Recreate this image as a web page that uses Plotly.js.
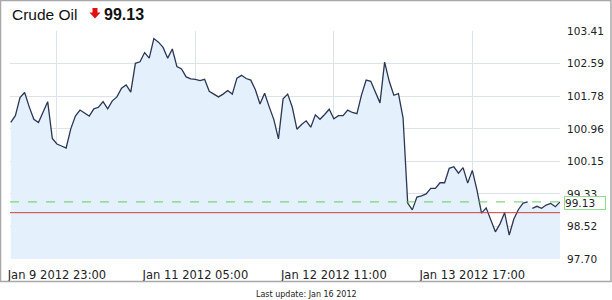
<!DOCTYPE html>
<html>
<head>
<meta charset="utf-8">
<script src="https://cdn.plot.ly/plotly-3.0.1.min.js"></script>
<style>html,body{margin:0;padding:0;background:#fff;}#chart{width:612px;height:300px;}</style>
</head>
<body>
<div id="chart"></div>
<script>
const times = [
"2012-01-09 13:00","2012-01-09 14:00","2012-01-09 15:00","2012-01-09 16:00","2012-01-09 17:00","2012-01-09 18:00","2012-01-09 19:00","2012-01-09 20:00","2012-01-09 21:00","2012-01-09 22:00","2012-01-09 23:00",
"2012-01-10 00:00","2012-01-10 01:00","2012-01-10 02:00","2012-01-10 03:00","2012-01-10 04:00","2012-01-10 05:00","2012-01-10 06:00","2012-01-10 07:00","2012-01-10 08:00","2012-01-10 09:00","2012-01-10 10:00","2012-01-10 11:00","2012-01-10 12:00","2012-01-10 13:00","2012-01-10 14:00","2012-01-10 15:00","2012-01-10 16:00","2012-01-10 17:00","2012-01-10 18:00","2012-01-10 19:00","2012-01-10 20:00","2012-01-10 21:00","2012-01-10 22:00","2012-01-10 23:00",
"2012-01-11 00:00","2012-01-11 01:00","2012-01-11 02:00","2012-01-11 03:00","2012-01-11 04:00","2012-01-11 05:00","2012-01-11 06:00","2012-01-11 07:00","2012-01-11 08:00","2012-01-11 09:00","2012-01-11 10:00","2012-01-11 11:00","2012-01-11 12:00","2012-01-11 13:00","2012-01-11 14:00","2012-01-11 15:00","2012-01-11 16:00","2012-01-11 17:00","2012-01-11 18:00","2012-01-11 19:00","2012-01-11 20:00","2012-01-11 21:00","2012-01-11 22:00","2012-01-11 23:00",
"2012-01-12 00:00","2012-01-12 01:00","2012-01-12 02:00","2012-01-12 03:00","2012-01-12 04:00","2012-01-12 05:00","2012-01-12 06:00","2012-01-12 07:00","2012-01-12 08:00","2012-01-12 09:00","2012-01-12 10:00","2012-01-12 11:00","2012-01-12 12:00","2012-01-12 13:00","2012-01-12 14:00","2012-01-12 15:00","2012-01-12 16:00","2012-01-12 17:00","2012-01-12 18:00","2012-01-12 19:00","2012-01-12 20:00","2012-01-12 21:00","2012-01-12 22:00","2012-01-12 23:00",
"2012-01-13 00:00","2012-01-13 01:00","2012-01-13 02:00","2012-01-13 03:00","2012-01-13 04:00","2012-01-13 05:00","2012-01-13 06:00","2012-01-13 07:00","2012-01-13 08:00","2012-01-13 09:00","2012-01-13 10:00","2012-01-13 11:00","2012-01-13 12:00","2012-01-13 13:00","2012-01-13 14:00","2012-01-13 15:00","2012-01-13 16:00","2012-01-13 17:00","2012-01-13 18:00","2012-01-13 19:00","2012-01-13 20:00","2012-01-13 21:00","2012-01-13 22:00","2012-01-13 23:00",
"2012-01-14 00:00","2012-01-14 01:00","2012-01-14 02:00","2012-01-14 03:00","2012-01-14 04:00","2012-01-14 05:00","2012-01-14 05:30","2012-01-14 06:00","2012-01-14 07:00","2012-01-14 08:00","2012-01-14 09:00","2012-01-14 10:00","2012-01-14 11:00","2012-01-14 12:00"
];
const prices = [
101.12,101.29,101.74,101.87,101.51,101.20,101.12,101.37,101.64,100.72,100.58,
100.53,100.48,100.96,101.28,101.43,101.35,101.28,101.46,101.50,101.64,101.46,101.66,101.76,101.98,102.06,101.88,102.60,102.64,102.87,102.73,103.22,103.13,103.00,102.73,
102.96,102.52,102.46,102.26,102.21,102.20,102.17,102.20,101.90,101.83,101.76,101.83,101.92,101.83,102.23,102.30,102.22,102.18,101.94,101.58,101.85,101.51,101.19,100.71,
101.71,101.83,101.50,100.95,101.07,101.16,101.00,101.31,101.20,101.32,101.45,101.21,101.29,101.29,101.43,101.37,101.34,101.81,102.18,102.15,101.88,101.61,102.63,102.15,
101.80,101.84,101.23,99.10,98.93,99.25,99.28,99.33,99.47,99.47,99.61,99.61,99.97,100.01,99.85,99.99,99.60,99.92,99.43,98.85,98.98,98.68,98.38,98.58,
98.86,98.30,98.70,98.94,99.10,99.13,null,98.97,99.02,98.97,99.05,99.09,99.01,99.13
];
const yTickVals = [97.70, 98.52, 99.33, 100.15, 100.96, 101.78, 102.59, 103.41];
const xTickVals = ["2012-01-09 23:00","2012-01-11 05:00","2012-01-12 11:00","2012-01-13 17:00"];
const xTickText = ["Jan 9 2012 23:00","Jan 11 2012 05:00","Jan 12 2012 11:00","Jan 13 2012 17:00"];
const lastPrice = 99.13;
const prevClose = 98.86;
const title = "Crude Oil";
const footer = "Last update: Jan 16 2012";

const font = "DejaVu Sans, Verdana, sans-serif";
const grid = "#dde3ea";

// page-pixel -> paper helpers (plot area spans x 10..560, y 31..259)
const px = x => (x - 10) / 550;
const py = y => (259 - y) / 228;
const arrowPts = [[92.5,8],[97.5,8],[97.5,12.5],[100.5,12.5],[95,18.5],[89.5,12.5],[92.5,12.5]];
const arrowPath = "M" + arrowPts.map(p => px(p[0]).toFixed(5) + "," + py(p[1]).toFixed(5)).join(" L") + " Z";

const trace = {
  x: times, y: prices, type: "scatter", mode: "lines",
  line: {color: "#2c3656", width: 1.3},
  fill: "tozeroy", fillcolor: "#e4f1fc",
  connectgaps: false, hoverinfo: "skip"
};

const layout = {
  width: 612, height: 300,
  margin: {l: 10, r: 52, t: 31, b: 41},
  paper_bgcolor: "#fff", plot_bgcolor: "#fff",
  showlegend: false,
  title: {text: title, x: 12/612, xanchor: "left", y: 1 - 14.5/300, yanchor: "middle",
          font: {family: "Liberation Sans, Arial, sans-serif", size: 15.5, color: "#111"}},
  xaxis: {
    type: "date", range: ["2012-01-09 12:50", "2012-01-14 12:00"],
    tickmode: "array", tickvals: xTickVals, ticktext: xTickText,
    showgrid: true, gridcolor: grid, gridwidth: 1, zeroline: false, showline: false,
    ticks: "outside", ticklen: 5, tickcolor: "rgba(0,0,0,0)",
    tickfont: {family: font, size: 11.5, color: "#222"}, fixedrange: true
  },
  yaxis: {
    side: "right", range: [97.70, 103.41],
    tickmode: "array", tickvals: yTickVals, ticktext: yTickVals.map(v => v.toFixed(2)),
    showgrid: true, gridcolor: grid, gridwidth: 1, zeroline: false, showline: false,
    ticks: "outside", ticklen: 4, tickcolor: "rgba(0,0,0,0)",
    tickfont: {family: font, size: 10.5, color: "#222"}, fixedrange: true
  },
  shapes: [
    {type: "line", xref: "paper", x0: 0, x1: 1, yref: "y", y0: prevClose, y1: prevClose,
     line: {color: "#d23c3c", width: 1}},
    {type: "line", xref: "paper", x0: 0, x1: 1, yref: "y", y0: lastPrice, y1: lastPrice,
     line: {color: "#5fcf5f", width: 1, dash: "dash"}},
    {type: "rect", xref: "paper", yref: "paper",
     x0: px(0.5), x1: px(611), y0: py(281.5), y1: py(0.5),
     line: {color: "#a8a8a8", width: 1.5}, layer: "above"},
    {type: "path", xref: "paper", yref: "paper", path: arrowPath,
     fillcolor: "#e01010", line: {width: 0}, layer: "above"}
  ],
  annotations: [
    {xref: "paper", yref: "y", x: 1, y: lastPrice, xanchor: "left", yanchor: "middle",
     xshift: 4, yshift: -1.5, text: lastPrice.toFixed(2), showarrow: false, align: "left", width: 40,
     bgcolor: "#fff", bordercolor: "#8fdc8f", borderwidth: 1, borderpad: 0,
     font: {family: font, size: 10.5, color: "#222"}},
    {xref: "paper", yref: "paper", x: px(102), y: py(14.5), xanchor: "left", yanchor: "middle",
     text: "<b>" + lastPrice.toFixed(2) + "</b>", showarrow: false,
     font: {family: "Liberation Sans, Arial, sans-serif", size: 16, color: "#111"}},
    {xref: "paper", yref: "paper", x: px(306), y: py(294), xanchor: "center", yanchor: "middle",
     text: footer, showarrow: false, font: {family: font, size: 8, color: "#222"}}
  ]
};

Plotly.newPlot("chart", [trace], layout, {staticPlot: true, displayModeBar: false});
</script>
</body>
</html>
